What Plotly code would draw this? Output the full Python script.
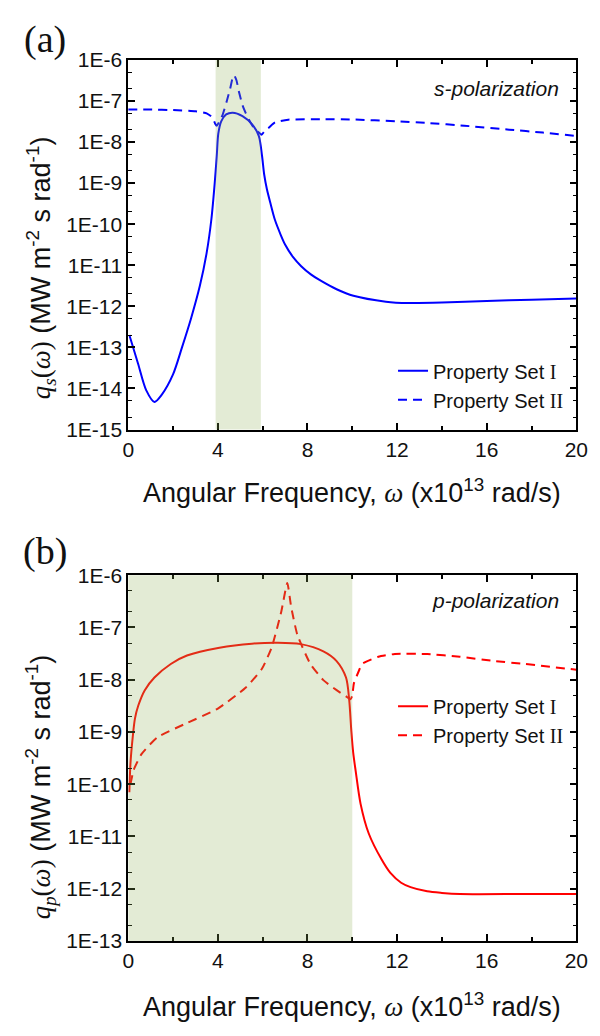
import plotly.graph_objects as go

# ---------------- data ----------------
# (a) s-polarization
w_s1 = [0.05, 0.44, 0.8, 1.17, 1.5, 2.0, 2.4, 2.8, 3.2, 3.5, 3.71, 3.86, 3.95, 4.02, 4.15,
        4.37, 4.66, 5.1, 5.53, 5.83, 5.97, 6.07, 6.19, 6.35, 6.55, 6.8, 7.0, 7.35, 7.72,
        8.15, 8.59, 9.3, 10.05, 11.5, 12.5, 14, 16, 18, 20]
q_s1 = [2.0e-13, 4.0e-14, 9.1e-15, 4.7e-15, 7.1e-15, 2.2e-14, 1.0e-13, 5.0e-13, 3.2e-12,
        2.0e-11, 1.3e-10, 1.0e-9, 4.5e-9, 1.6e-8, 3.2e-8, 4.7e-8, 5.2e-8, 4.3e-8, 2.7e-8,
        1.4e-8, 4.7e-9, 1.6e-9, 7.1e-10, 3.2e-10, 1.26e-10, 5.6e-11, 3.2e-11, 1.6e-11,
        9.5e-12, 6.0e-12, 4.2e-12, 2.6e-12, 1.8e-12, 1.3e-12, 1.2e-12, 1.23e-12, 1.35e-12,
        1.45e-12, 1.55e-12]

w_s2 = [0, 1, 2, 3, 3.5, 3.75, 3.88, 3.95, 4.05, 4.2, 4.4, 4.55, 4.65, 4.73, 4.83, 4.95,
        5.1, 5.25, 5.39, 5.61, 5.83, 5.95, 6.1, 6.26, 6.55, 7.14, 8.6, 10, 12, 13.4, 15,
        17, 18.5, 20]
q_s2 = [6.2e-8, 6.2e-8, 6.0e-8, 5.6e-8, 5.0e-8, 4.0e-8, 2.8e-8, 2.5e-8, 3.0e-8, 4.4e-8,
        1.0e-7, 2.0e-7, 3.5e-7, 4.2e-7, 3.2e-7, 1.6e-7, 7.9e-8, 5.0e-8, 3.5e-8, 2.2e-8,
        1.7e-8, 1.5e-8, 1.9e-8, 2.2e-8, 3.0e-8, 3.5e-8, 3.6e-8, 3.55e-8, 3.2e-8, 2.9e-8,
        2.5e-8, 2.0e-8, 1.7e-8, 1.4e-8]

# (b) p-polarization
w_p1 = [0.05, 0.1, 0.2, 0.3, 0.45, 0.74, 1.17, 1.9, 2.62, 4.07, 5.52, 6.68, 7.7, 8.71,
        9.29, 9.72, 9.86, 9.96, 10.04, 10.15, 10.37, 10.73, 11.31, 11.7, 12.18, 12.6,
        13.34, 14.0, 14.8, 17.7, 20]
q_p1 = [7.0e-11, 2.5e-10, 7.9e-10, 1.8e-9, 3.2e-9, 6.3e-9, 1.1e-8, 2.0e-8, 2.9e-8, 4.1e-8,
        4.9e-8, 5.1e-8, 4.8e-8, 3.5e-8, 2.3e-8, 1.1e-8, 4.2e-9, 1.0e-9, 4.0e-10, 1.8e-10,
        4.2e-11, 1.15e-11, 3.6e-12, 2.0e-12, 1.3e-12, 1.07e-12, 8.9e-13, 8.3e-13, 7.9e-13,
        7.9e-13, 7.9e-13]

w_p2 = [0.1, 0.25, 0.6, 1.3, 2.5, 4.0, 5.25, 5.96, 6.4, 6.83, 7.1, 7.27, 7.55, 8.13, 8.71,
        9.3, 9.72, 9.92, 10.0, 10.07, 10.3, 10.43, 11.16, 11.9, 13.35, 14.8, 16.25, 17.7, 20]
q_p2 = [1.0e-10, 1.9e-10, 3.8e-10, 7.9e-10, 1.4e-9, 2.8e-9, 7.1e-9, 1.6e-8, 4.1e-8, 2.0e-7,
        7.1e-7, 2.5e-7, 7.2e-8, 2.0e-8, 9.8e-9, 6.3e-9, 4.8e-9, 4.2e-9, 5.0e-9, 8.5e-9,
        1.5e-8, 2.0e-8, 2.75e-8, 3.1e-8, 3.1e-8, 2.75e-8, 2.3e-8, 2.0e-8, 1.55e-8]

shade_s = [3.9, 5.92]
shade_p = [0, 10]

x_ticks = [0, 4, 8, 12, 16, 20]
y_ticks_s = [1e-15, 1e-14, 1e-13, 1e-12, 1e-11, 1e-10, 1e-9, 1e-8, 1e-7, 1e-6]
y_text_s = ["1E-15", "1E-14", "1E-13", "1E-12", "1E-11", "1E-10", "1E-9", "1E-8", "1E-7", "1E-6"]
y_ticks_p = [1e-13, 1e-12, 1e-11, 1e-10, 1e-9, 1e-8, 1e-7, 1e-6]
y_text_p = ["1E-13", "1E-12", "1E-11", "1E-10", "1E-9", "1E-8", "1E-7", "1E-6"]

names = ['Property Set <span style="font-family:Liberation Serif">I</span>',
         'Property Set <span style="font-family:Liberation Serif">II</span>']

# ---------------- figure ----------------
W, H = 600, 1036
SANS = "Liberation Sans, Arial, sans-serif"
SERIF = "Liberation Serif"

fig = go.Figure()

BLUE = "#0000ff"
RED = "#ff0000"

fig.add_trace(go.Scatter(x=w_s1, y=q_s1, mode="lines", name=names[0],
                         line=dict(color=BLUE, width=2, shape="spline", smoothing=0.8),
                         xaxis="x", yaxis="y", legend="legend"))
fig.add_trace(go.Scatter(x=w_s2, y=q_s2, mode="lines", name=names[1],
                         line=dict(color=BLUE, width=2, dash="9px,6px", shape="spline", smoothing=0.5),
                         xaxis="x", yaxis="y", legend="legend"))
fig.add_trace(go.Scatter(x=w_p1, y=q_p1, mode="lines", name=names[0],
                         line=dict(color=RED, width=2, shape="spline", smoothing=0.8),
                         xaxis="x2", yaxis="y2", legend="legend2"))
fig.add_trace(go.Scatter(x=w_p2, y=q_p2, mode="lines", name=names[1],
                         line=dict(color=RED, width=2, dash="9px,6px", shape="spline", smoothing=0.5),
                         xaxis="x2", yaxis="y2", legend="legend2"))

def px_x(p):
    return p / W

def px_y(p):
    return 1 - p / H

xdom = [px_x(126), px_x(588)]
ydom_s = [px_y(427), px_y(49)]
ydom_p = [px_y(950), px_y(576)]

axis_common = dict(showline=True, linecolor="black", linewidth=1.6, mirror="ticks",
                   ticks="inside", ticklen=7, tickwidth=1.6, tickcolor="black",
                   showgrid=False, zeroline=False,
                   tickfont=dict(family=SANS, size=21, color="#111"))

xa = dict(axis_common, range=[0, 20], tickvals=x_ticks, ticktext=[str(v) for v in x_ticks],
          minor=dict(ticks="inside", ticklen=4, tickwidth=1.5, tickcolor="black", dtick=2, tick0=0))

LEGFONT = dict(family=SANS, size=20, color="#111")

fig.update_layout(
    width=W, height=H, margin=dict(l=0, r=0, t=0, b=0),
    paper_bgcolor="white", plot_bgcolor="white",
    xaxis=dict(xa, domain=xdom, anchor="y"),
    yaxis=dict(axis_common, type="log", range=[-15, -6], domain=ydom_s, anchor="x",
               tickvals=y_ticks_s, ticktext=y_text_s,
               minor=dict(ticks="inside", ticklen=4, tickwidth=1, tickcolor="black")),
    xaxis2=dict(xa, domain=xdom, anchor="y2"),
    yaxis2=dict(axis_common, type="log", range=[-13, -6], domain=ydom_p, anchor="x2",
                tickvals=y_ticks_p, ticktext=y_text_p,
                minor=dict(ticks="inside", ticklen=4, tickwidth=1, tickcolor="black")),
    legend=dict(x=px_x(399), y=px_y(347), xanchor="left", yanchor="top",
                bgcolor="rgba(0,0,0,0)", font=LEGFONT, tracegroupgap=0),
    legend2=dict(x=px_x(399), y=px_y(690), xanchor="left", yanchor="top",
                 bgcolor="rgba(0,0,0,0)", font=LEGFONT, tracegroupgap=0),
    showlegend=True,
)

# shaded bands (drawn over lines with transparency, as in the reference)
fig.add_shape(type="rect", xref="x", yref="y domain", x0=shade_s[0], x1=shade_s[1], y0=0, y1=1,
              fillcolor="rgb(143,175,87)", opacity=0.25, line_width=0, layer="above")
fig.add_shape(type="rect", xref="x2", yref="y2 domain", x0=shade_p[0], x1=shade_p[1], y0=0, y1=1,
              fillcolor="rgb(143,175,87)", opacity=0.25, line_width=0, layer="above")

omega = f'<span style="font-family:{SERIF}"><i>ω</i></span>'
xtitle = f'Angular Frequency, {omega} (x10<sup>13</sup> rad/s)'
ytitle_s = (f'<span style="font-family:{SERIF}"><i>q</i><sub><i>s</i></sub>(<i>ω</i>)</span>'
            ' (MW m<sup>-2</sup> s rad<sup>-1</sup>)')
ytitle_p = (f'<span style="font-family:{SERIF}"><i>q</i><sub><i>p</i></sub>(<i>ω</i>)</span>'
            ' (MW m<sup>-2</sup> s rad<sup>-1</sup>)')

ann = []
def add_text(text, x, y, size, family=SANS, xanchor="center", angle=0):
    ann.append(dict(text=text, x=px_x(x), y=px_y(y), xref="paper", yref="paper",
                    showarrow=False, xanchor=xanchor, yanchor="middle", textangle=angle,
                    font=dict(family=family, size=size, color="#111")))

add_text("(a)", 40, 28, 38, family=SERIF)
add_text("(b)", 40, 552, 38, family=SERIF)
add_text(xtitle, 357, 490, 27)
add_text(xtitle, 357, 1016, 27)
add_text(ytitle_s, 36, 261, 27, angle=-90)
add_text(ytitle_p, 36, 792, 27, angle=-90)
add_text("<i>s-polarization</i>", 572, 78, 21, xanchor="right")
add_text("<i>p-polarization</i>", 572, 602, 21, xanchor="right")

fig.update_layout(annotations=ann)

fig.write_html("out.html")
